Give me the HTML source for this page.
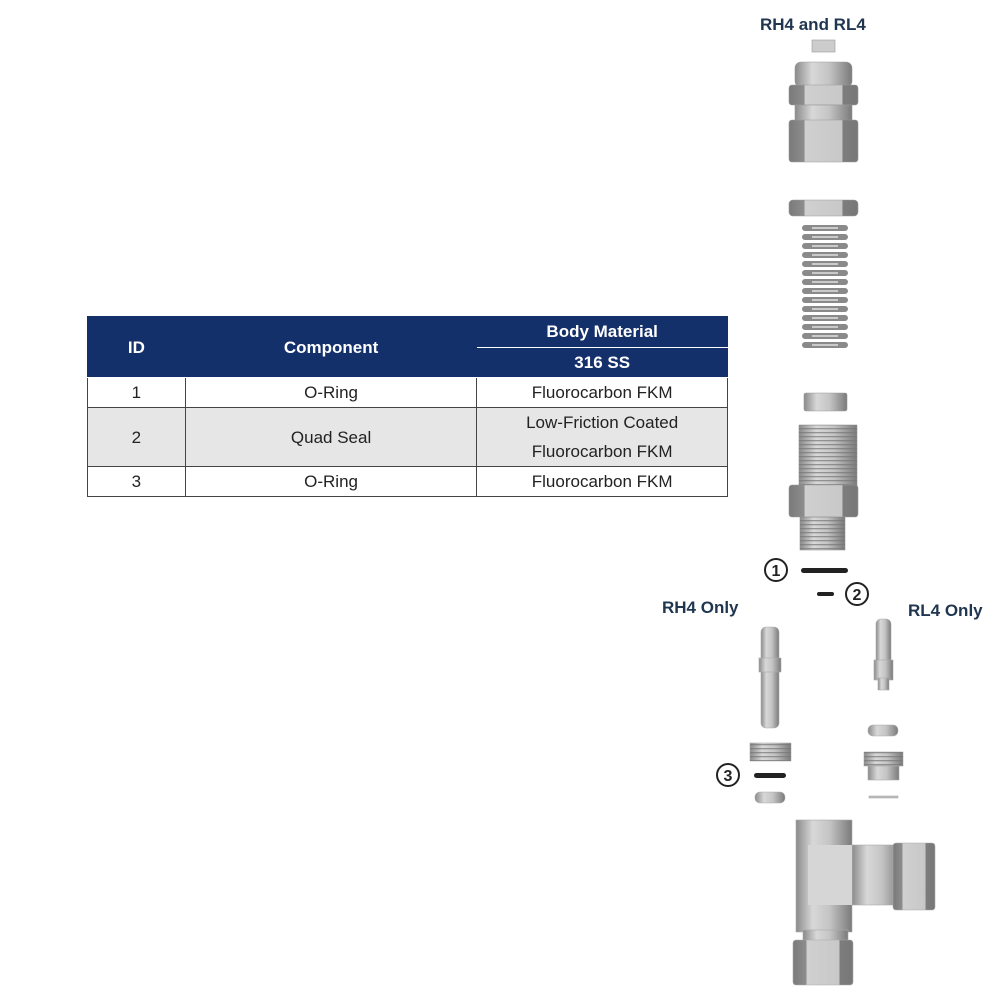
<!DOCTYPE html>
<html><head><meta charset="utf-8"><style>
body{margin:0;width:1000px;height:1000px;background:#fff;position:relative;overflow:hidden;font-family:"Liberation Sans",sans-serif}
table{position:absolute;left:87px;top:316px;border-collapse:collapse;width:641px;font-size:17px;color:#222}
td{border:1px solid #444;text-align:center;padding:0;line-height:29px}
.h td{background:#14306b;color:#fff;font-weight:bold;border-color:#fff #14306b #fff #14306b}
.g td{background:#e6e6e6}
.lbl{position:absolute;color:#1f3550;font-weight:bold;font-size:17px}
</style></head><body>
<table>
<colgroup><col style="width:98px"><col style="width:292px"><col style="width:251px"></colgroup>
<tr class="h"><td rowspan="2" style="height:60px;border-top-color:#14306b">ID</td><td rowspan="2" style="border-top-color:#14306b">Component</td><td style="height:29px;border-top-color:#14306b">Body Material</td></tr>
<tr class="h"><td style="height:29px">316 SS</td></tr>
<tr><td>1</td><td>O-Ring</td><td>Fluorocarbon FKM</td></tr>
<tr class="g"><td>2</td><td>Quad Seal</td><td>Low-Friction Coated<br>Fluorocarbon FKM</td></tr>
<tr><td>3</td><td>O-Ring</td><td>Fluorocarbon FKM</td></tr>
</table>
<div class="lbl" style="left:760px;top:15px">RH4 and RL4</div>
<div class="lbl" style="left:662px;top:598px">RH4 Only</div>
<div class="lbl" style="left:908px;top:601px">RL4 Only</div>
<svg width="1000" height="1000" style="position:absolute;left:0;top:0">
<defs>
<linearGradient id="m" x1="0" x2="1"><stop offset="0" stop-color="#8a8a8a"/><stop offset=".3" stop-color="#d8d8d8"/><stop offset=".6" stop-color="#c4c4c4"/><stop offset="1" stop-color="#7a7a7a"/></linearGradient>
<linearGradient id="h" x1="0" x2="1"><stop offset="0" stop-color="#7a7a7a"/><stop offset=".22" stop-color="#8d8d8d"/><stop offset=".23" stop-color="#d0d0d0"/><stop offset=".77" stop-color="#c8c8c8"/><stop offset=".78" stop-color="#7d7d7d"/><stop offset="1" stop-color="#777"/></linearGradient>
<pattern id="t" width="4" height="4" patternUnits="userSpaceOnUse"><rect y="0" width="4" height="1.3" fill="#777" opacity=".7"/></pattern>
</defs>
<g stroke="#999" stroke-width=".6">
<rect x="812" y="40" width="23" height="12" fill="#ccc"/>
<rect x="795" y="62" width="57" height="25" rx="6" fill="url(#m)"/>
<rect x="789" y="85" width="69" height="20" rx="3" fill="url(#h)"/>
<rect x="795" y="105" width="57" height="16" fill="url(#m)"/>
<rect x="789" y="120" width="69" height="42" rx="3" fill="url(#h)"/>
<rect x="789" y="200" width="69" height="16" rx="4" fill="url(#h)"/>
<rect x="804" y="393" width="43" height="18" rx="2" fill="url(#m)"/>
<rect x="799" y="425" width="58" height="62" fill="url(#m)"/>
<rect x="799" y="425" width="58" height="62" fill="url(#t)" stroke="none"/>
<rect x="789" y="485" width="69" height="32" rx="3" fill="url(#h)"/>
<rect x="800" y="517" width="45" height="33" fill="url(#m)"/>
<rect x="800" y="517" width="45" height="33" fill="url(#t)" stroke="none"/>
</g>
<g fill="none" stroke="#8a8a8a" stroke-width="6" stroke-linecap="round">
<path d="M805 228h40M805 237h40M805 246h40M805 255h40M805 264h40M805 273h40M805 282h40M805 291h40M805 300h40M805 309h40M805 318h40M805 327h40M805 336h40M805 345h40"/>
</g>
<g fill="none" stroke="#e0e0e0" stroke-width="1.5">
<path d="M812 228h26M812 237h26M812 246h26M812 255h26M812 264h26M812 273h26M812 282h26M812 291h26M812 300h26M812 309h26M812 318h26M812 327h26M812 336h26M812 345h26"/>
</g>
<rect x="801" y="568" width="47" height="5" rx="2.5" fill="#222"/>
<rect x="817" y="592" width="17" height="4" rx="2" fill="#222"/>
<rect x="754" y="773" width="32" height="5" rx="2.5" fill="#222"/>
<g fill="#fff" stroke="#222" stroke-width="2">
<circle cx="776" cy="570" r="11"/><circle cx="857" cy="594" r="11"/><circle cx="728" cy="775" r="11"/>
</g>
<g font-size="16" font-weight="bold" text-anchor="middle" fill="#222">
<text x="776" y="576">1</text><text x="857" y="600">2</text><text x="728" y="781">3</text>
</g>
<g stroke="#aaa" stroke-width=".6">
<rect x="761" y="627" width="18" height="101" rx="5" fill="url(#m)"/>
<rect x="759" y="658" width="22" height="14" fill="url(#m)"/>
<rect x="876" y="619" width="15" height="50" rx="5" fill="url(#m)"/>
<rect x="874" y="660" width="19" height="20" fill="url(#m)"/>
<rect x="878" y="678" width="11" height="12" fill="url(#m)"/>
<rect x="750" y="743" width="41" height="18" fill="url(#m)"/>
<rect x="750" y="743" width="41" height="18" fill="url(#t)" stroke="none"/>
<rect x="755" y="792" width="30" height="11" rx="5" fill="url(#m)"/>
<rect x="868" y="725" width="30" height="11" rx="5" fill="url(#m)"/>
<rect x="864" y="752" width="39" height="14" fill="url(#m)"/>
<rect x="864" y="752" width="39" height="14" fill="url(#t)" stroke="none"/>
<rect x="868" y="766" width="31" height="14" fill="url(#m)"/>
<rect x="869" y="796" width="29" height="2" fill="#bbb"/>
<rect x="852" y="845" width="50" height="60" fill="url(#m)"/>
<rect x="893" y="843" width="42" height="67" rx="3" fill="url(#h)"/>
<rect x="796" y="820" width="56" height="112" fill="url(#m)"/>
<rect x="808" y="845" width="44" height="60" fill="#d6d6d6" stroke="none"/>
<rect x="803" y="930" width="45" height="12" fill="url(#m)"/>
<rect x="793" y="940" width="60" height="45" rx="3" fill="url(#h)"/>
</g>
</svg>
</body></html>
